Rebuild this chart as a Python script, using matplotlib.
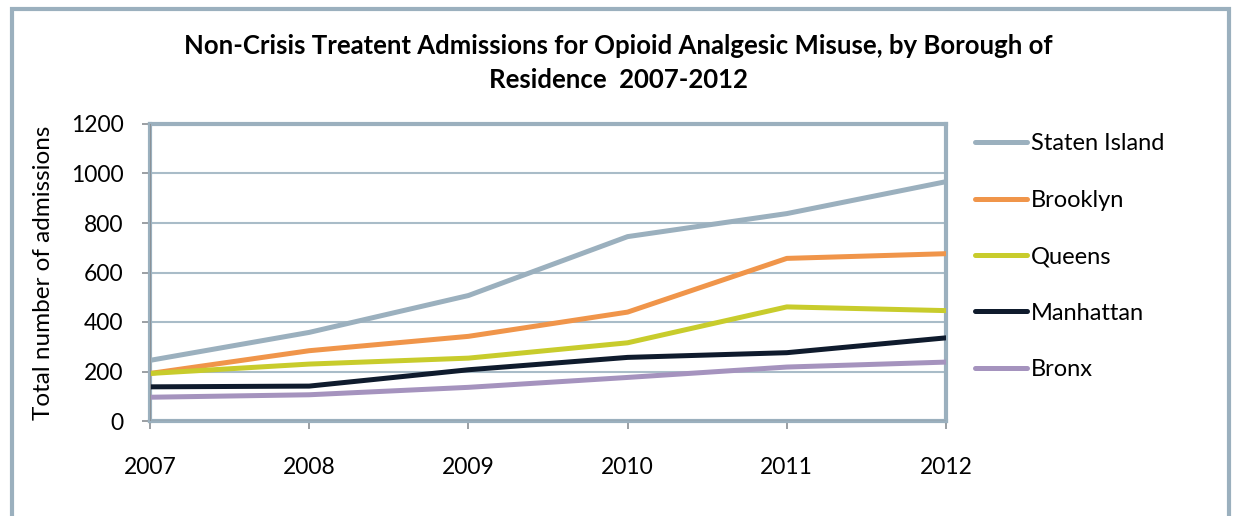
import numpy as np
import matplotlib
matplotlib.use("Agg")
import matplotlib.pyplot as plt
from matplotlib.patches import Rectangle

years = [2007, 2008, 2009, 2010, 2011, 2012]

staten_island = [245, 358, 507, 745, 838, 967]
brooklyn = [192, 284, 342, 440, 657, 676]
queens = [192, 230, 254, 316, 461, 446]
manhattan = [138, 141, 207, 257, 276, 336]
bronx = [96, 106, 136, 176, 218, 238]

boroughs = ["Staten Island", "Brooklyn", "Queens", "Manhattan", "Bronx"]
series = [staten_island, brooklyn, queens, manhattan, bronx]
colors = ["#9BB0BE", "#F0954A", "#C8CC2C", "#0F1B2D", "#A593BE"]

yticks = [0, 200, 400, 600, 800, 1000, 1200]

plt.rcParams['font.family'] = ['Lato', 'DejaVu Sans']

fig = plt.figure(figsize=(12.33, 5.16), dpi=100)
ax = fig.add_axes([150 / 1233, 1 - 421 / 516, (946 - 150) / 1233, (421 - 124) / 516])

# outer chart frame (bottom edge runs off the canvas)
fig.patches.append(Rectangle((12 / 1233, -0.1), (1229 - 12) / 1233, 1.1 - 9 / 516,
                             transform=fig.transFigure, fill=False,
                             edgecolor="#9BB0BE", linewidth=3))

for name, vals, c in zip(boroughs, series, colors):
    ax.plot(years, vals, color=c, linewidth=3.6, label=name,
            solid_capstyle="round", solid_joinstyle="round", zorder=3)

ax.set_xlim(2007, 2012)
ax.set_ylim(0, 1200)
ax.set_xticks(years)
ax.set_yticks(yticks)
ax.yaxis.grid(True, color="#A9BCC8", linewidth=1.5)
ax.set_axisbelow(True)

for s in ax.spines.values():
    s.set_color("#9BB0BE")
    s.set_linewidth(3)
ax.axvline(2007, color="#8A8F94", linewidth=1.3, zorder=4)
ax.axhline(0, color="#8A8F94", linewidth=1.0, zorder=4)

ax.tick_params(axis="both", direction="out", length=6, width=1.2, color="#8A8F94",
               labelsize=16.5)
ax.tick_params(axis="x", pad=20)
ax.tick_params(axis="y", pad=13)

ax.set_ylabel("Total number of admissions", fontsize=17.5, labelpad=12)

fig.text(0.5 + 2 / 1233, 1 - 46 / 516, "Non-Crisis Treatent Admissions for Opioid Analgesic Misuse, by Borough of",
         ha="center", va="center", fontsize=18.5, fontweight="bold")
fig.text(0.5 + 2 / 1233, 1 - 80 / 516, "Residence  2007-2012",
         ha="center", va="center", fontsize=18.5, fontweight="bold")

leg = ax.legend(loc="upper left", bbox_to_anchor=(966 / 1233, 1 - 124 / 516),
                bbox_transform=fig.transFigure, frameon=False, fontsize=17,
                handlelength=2.2, handletextpad=0.15, labelspacing=1.5,
                borderaxespad=0)

fig.savefig("out.png", dpi=100)
